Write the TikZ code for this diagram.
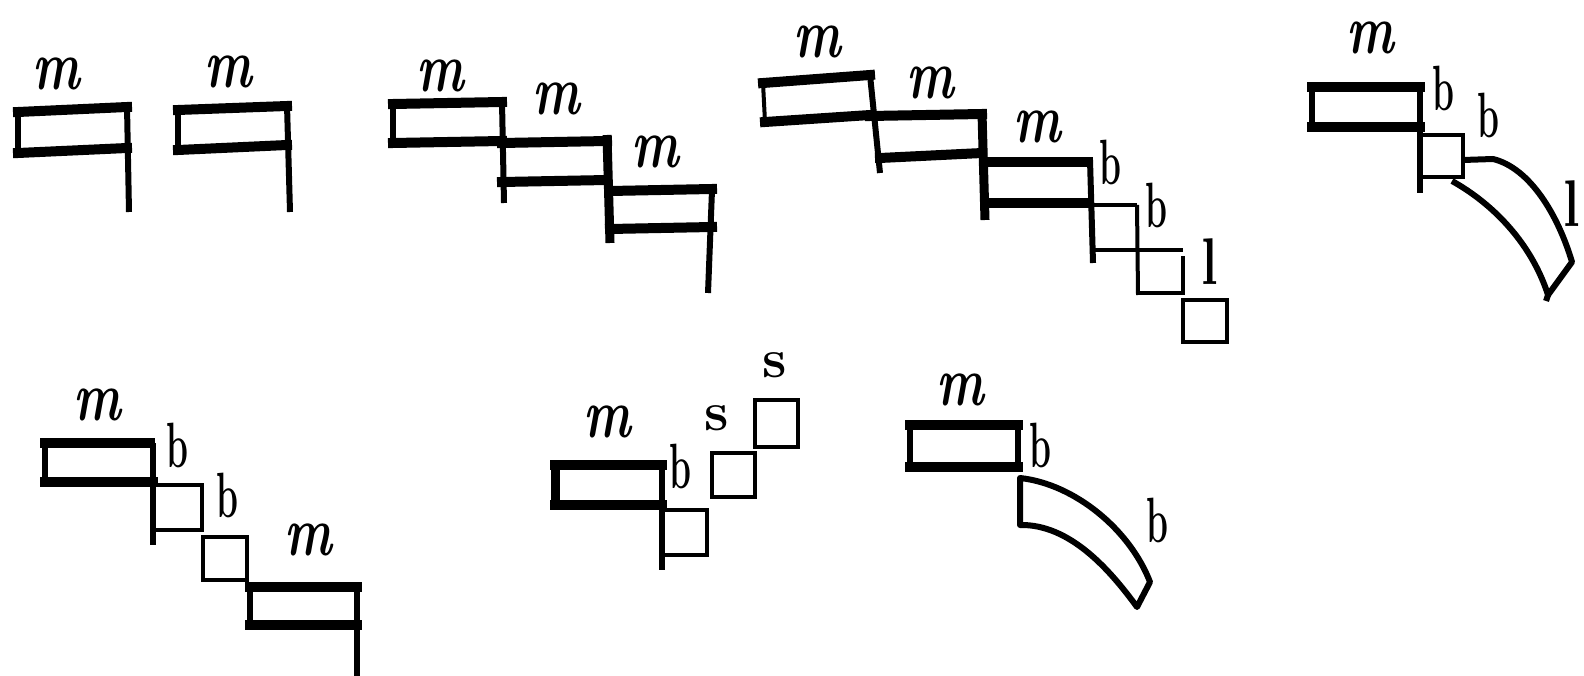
\documentclass[tikz,border=0pt]{standalone}
\usepackage{fontspec}
\tikzset{
  hl/.style={line width=10pt, line cap=rect},
  vl/.style={line width=6pt},
  vthick/.style={line width=9pt},
  sq/.style={line width=4pt},
  curvednote/.style={line width=6pt, line join=round},
  lab/.style={inner sep=0pt, text=black}
}
% letter shapes used for the labels
\newcommand\labm{\scalebox{0.72}[1]{\fontsize{70}{70}\selectfont\bfseries\itshape m}}
\newcommand\labb{\scalebox{0.55}[1]{\fontsize{64}{64}\selectfont\bfseries b}}
\newcommand\labl{\scalebox{0.8}[1]{\fontsize{66}{66}\selectfont\bfseries l}}
\newcommand\labs{\fontsize{55}{55}\selectfont\bfseries s}
\begin{document}
\begin{tikzpicture}[x=1pt,y=-1pt]
\useasboundingbox (0,0) rectangle (1584,676);

% --- single maxima, twice
\draw[vl] (18,110) -- (18,153);
\draw[vl] (127,106) -- (129,212);
\draw[hl] (18,112) -- (127,107);
\draw[hl] (18,153) -- (127,148);
\node[lab] (m1) at (56,74) {\labm};

\draw[vl] (178,108) -- (178,150);
\draw[vl] (287,105) -- (290,212);
\draw[hl] (178,110) -- (287,106);
\draw[hl] (178,150) -- (287,145);
\node[lab] (m2) at (228,72) {\labm};

% --- three maximas descending
\draw[vl] (393,103) -- (393,143);
\draw[vl] (502,102) -- (504,203);
\draw[hl] (393,104) -- (502,102);
\draw[hl] (393,143) -- (502,141);
\node[lab] (m3) at (440,76) {\labm};

\draw[vthick] (607,135) -- (610,243);
\draw[hl] (502,143) -- (607,141);
\draw[hl] (502,182) -- (607,180);
\node[lab] (m4) at (556,99) {\labm};

\draw[vl] (712,190) -- (708,293);
\draw[hl] (610,191) -- (712,189);
\draw[hl] (610,229) -- (712,227);
\node[lab] (m5) at (655,152) {\labm};

% --- three maximas, two breves, one square
\draw[line width=4pt] (763,83) -- (765,122);
\draw[vl] (870,75) -- (880,173);
\draw[hl] (763,83) -- (870,75);
\draw[hl] (765,122) -- (870,115);
\node[lab] (m6) at (817,42) {\labm};

\draw[vthick] (982,113) -- (985,220);
\draw[hl] (870,116) -- (982,114);
\draw[hl] (880,158) -- (982,153);
\node[lab] (m7) at (930,83) {\labm};

\draw[vl] (1090,160) -- (1093,263);
\draw[hl] (985,162) -- (1088,162);
\draw[hl] (985,203) -- (1088,203);
\node[lab] (m8) at (1037,127) {\labm};

\draw[sq] (1093,205) -- (1137,205);
\draw[sq] (1137,205) -- (1138,295);
\draw[sq] (1093,250) -- (1183,250);
\draw[sq] (1138,293) -- (1183,293) -- (1183,256);
\node[lab] (b1) at (1110,162) {\labb};
\node[lab] (b2) at (1156,205) {\labb};

\draw[sq] (1183,300) rectangle (1227,342);
\node[lab] (l1) at (1210,262) {\labl};

% --- maxima, brevis, bent longa
\draw[vl] (1312,87) -- (1312,127);
\draw[vl] (1420,87) -- (1420,193);
\draw[hl] (1312,87) -- (1420,87);
\draw[hl] (1312,127) -- (1420,127);
\node[lab] (m9) at (1370,38) {\labm};

\draw[sq] (1420,135) rectangle (1463,177);
\node[lab] (b3) at (1443,88) {\labb};

\draw[curvednote] (1463,160) -- (1493,159)
  .. controls (1530,168) and (1558,215) .. (1572,262)
  -- (1548,295)
  .. controls (1532,245) and (1495,205) .. (1452,181);
\draw[curvednote] (1548,295) -- (1546,301);
\node[lab] (b4) at (1488,115) {\labb};
\node[lab] (l2) at (1572,204) {\labl};

% --- maxima, two breves, maxima
\draw[vl] (45,443) -- (45,482);
\draw[vl] (153,443) -- (153,545);
\draw[hl] (45,443) -- (150,443);
\draw[hl] (45,482) -- (153,482);
\node[lab] (m10) at (97,405) {\labm};

\draw[sq] (153,485) -- (202,485) -- (202,530) -- (153,530);
\node[lab] (b5) at (177,445) {\labb};

\draw[sq] (203,537) rectangle (247,580);
\node[lab] (b6) at (227,495) {\labb};

\draw[vl] (250,587) -- (250,625);
\draw[vl] (357,587) -- (357,680);
\draw[hl] (250,587) -- (357,587);
\draw[hl] (250,625) -- (357,625);
\node[lab] (m11) at (308,540) {\labm};

% --- maxima, brevis, two semibreves rising
\draw[vthick] (555,465) -- (555,505);
\draw[vl] (662,465) -- (662,570);
\draw[hl] (555,465) -- (662,465);
\draw[hl] (555,505) -- (662,505);
\node[lab] (m12) at (607,422) {\labm};

\draw[sq] (662,510) -- (707,510) -- (707,555) -- (662,555);
\node[lab] (b7) at (680,466) {\labb};

\draw[sq] (712,453) rectangle (755,497);
\draw[sq] (755,400) rectangle (798,447);
\node[lab] (s1) at (717,418) {\labs};
\node[lab] (s2) at (775,365) {\labs};

% --- maxima and bent brevis
\draw[vl] (910,425) -- (910,467);
\draw[vl] (1018,425) -- (1018,467);
\draw[hl] (910,425) -- (1018,425);
\draw[hl] (910,467) -- (1018,467);
\node[lab] (m13) at (960,390) {\labm};

\draw[curvednote] (1020,478)
  .. controls (1075,484) and (1130,530) .. (1150,582)
  -- (1137,607)
  .. controls (1110,570) and (1070,524) .. (1020,525) -- cycle;
\node[lab] (b8) at (1040,445) {\labb};
\node[lab] (b9) at (1157,520) {\labb};

\end{tikzpicture}
\end{document}
